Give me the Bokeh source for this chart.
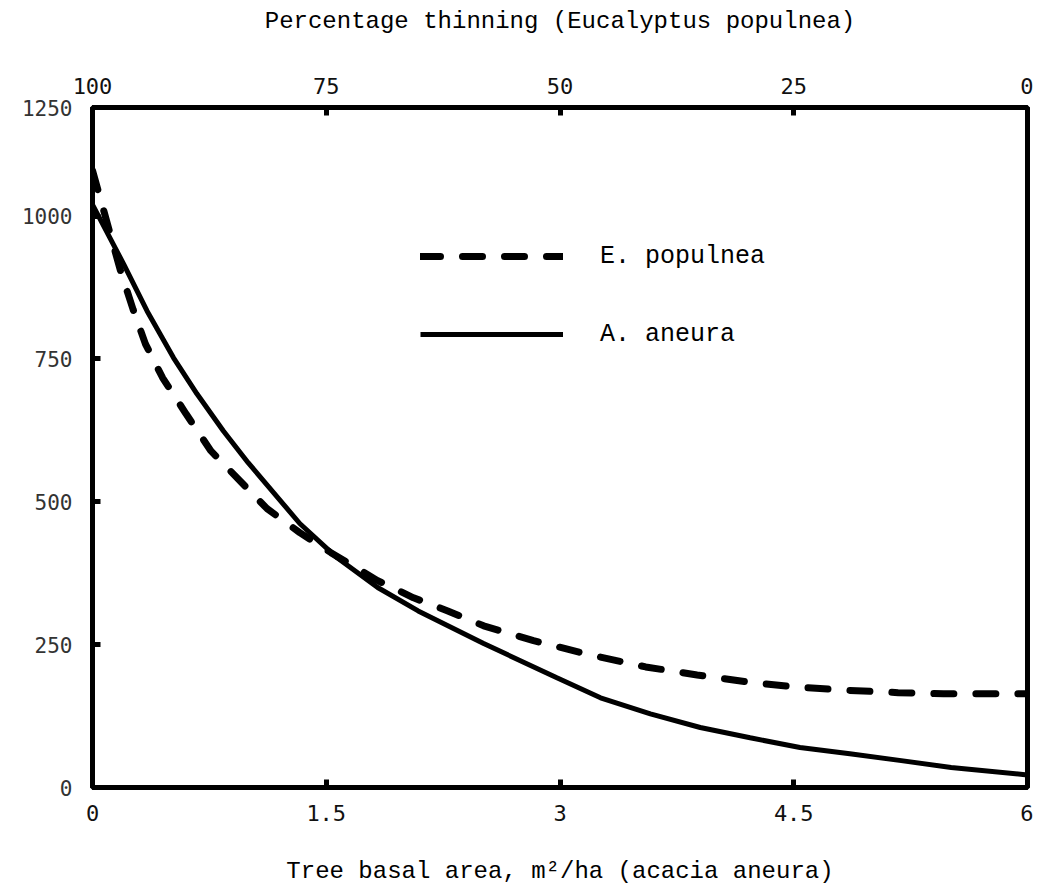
from bokeh.plotting import figure
from bokeh.models import Range1d, LinearAxis, FixedTicker, Legend, LegendItem
from bokeh.embed import file_html
from bokeh.resources import INLINE

# --- data ---
basal_area_aneura = [0, 0.2, 0.35, 0.52, 0.67, 0.84, 1.0, 1.33, 1.57, 1.83, 2.09, 2.51,
                     2.98, 3.26, 3.58, 3.9, 4.22, 4.54, 4.86, 5.19, 5.51, 6.0]
yield_aneura = [1020, 916, 834, 752, 689, 624, 568, 462, 402, 350, 309, 252,
                192, 157, 129, 105, 87, 70, 59, 47, 35, 22]

basal_area_populnea = [0, 0.18, 0.26, 0.34, 0.45, 0.6, 0.76, 1.12, 1.33, 1.53, 1.83, 2.06,
                       2.28, 2.51, 2.83, 3.18, 3.55, 3.88, 4.25, 4.56, 4.85, 5.17, 5.46, 5.72, 6.0]
yield_populnea = [1080, 904, 837, 776, 717, 654, 589, 488, 446, 411, 362, 332,
                  309, 283, 257, 233, 211, 197, 183, 175, 170, 166, 164, 164, 164]

x_ticks = [0, 1.5, 3, 4.5, 6]
y_ticks = [0, 250, 500, 750, 1000, 1190]
y_tick_labels = {0: "0", 250: "250", 500: "500", 750: "750", 1000: "1000", 1190: "1250"}
top_ticks = [100, 75, 50, 25, 0]

series_labels = ["E. populnea", "A. aneura"]
x_title = "Tree basal area, m\u00b2/ha (acacia aneura)"
top_title = "Percentage thinning (Eucalyptus populnea)"

MONO = "Liberation Mono"
TICKFONT = "DejaVu Sans Mono"

p = figure(width=1033, height=890, output_backend="svg", toolbar_location=None,
           x_range=Range1d(0, 6), y_range=Range1d(0, 1190),
           min_border_left=92, min_border_right=6, min_border_top=107, min_border_bottom=103,
           background_fill_color="white", border_fill_color="white")

p.xgrid.visible = False
p.ygrid.visible = False
p.outline_line_color = "black"
p.outline_line_width = 5
p.outline_line_alpha = 1

bottom_axis = p.below[0]
left_axis = p.left[0]

p.extra_x_ranges = {"pct": Range1d(start=100, end=0)}
top_axis = LinearAxis(x_range_name="pct", ticker=FixedTicker(ticks=top_ticks),
                      axis_label=top_title)
p.add_layout(top_axis, "above")

bottom_axis.ticker = FixedTicker(ticks=x_ticks)
bottom_axis.axis_label = x_title

left_axis.ticker = FixedTicker(ticks=y_ticks)
left_axis.major_label_overrides = y_tick_labels

for ax in [bottom_axis, left_axis, top_axis]:
    ax.axis_line_width = 5
    ax.axis_line_color = "black"
    ax.major_tick_line_width = 5
    ax.major_tick_line_color = "black"
    ax.major_tick_in = 8
    ax.major_tick_out = 0
    ax.minor_tick_line_color = None
    ax.major_label_text_font = TICKFONT
    ax.major_label_text_font_size = "22px"
    ax.major_label_text_color = "#111111"
    ax.axis_label_text_font = MONO
    ax.axis_label_text_font_size = "24px"
    ax.axis_label_text_font_style = "normal"
    ax.axis_label_text_color = "black"

bottom_axis.major_label_standoff = 17
bottom_axis.axis_label_standoff = 34
top_axis.major_label_standoff = 14
top_axis.axis_label_standoff = 40
left_axis.major_label_standoff = 20
left_axis.major_label_text_font_size = "21px"
left_axis.major_label_text_color = "#333333"

r_pop = p.line(basal_area_populnea, yield_populnea, line_color="black", line_width=7,
               line_dash="20 22", line_cap="round")
r_ane = p.line(basal_area_aneura, yield_aneura, line_color="black", line_width=5)

legend = Legend(items=[LegendItem(label=series_labels[0], renderers=[r_pop]),
                       LegendItem(label=series_labels[1], renderers=[r_ane])],
                location=(328, 433), glyph_width=143, glyph_height=40, spacing=38,
                padding=0, margin=0, label_standoff=37,
                border_line_alpha=0, background_fill_alpha=0,
                label_text_font=MONO, label_text_font_size="25px",
                label_text_color="black")
p.add_layout(legend)

open("out.html", "w").write(file_html(p, INLINE))
